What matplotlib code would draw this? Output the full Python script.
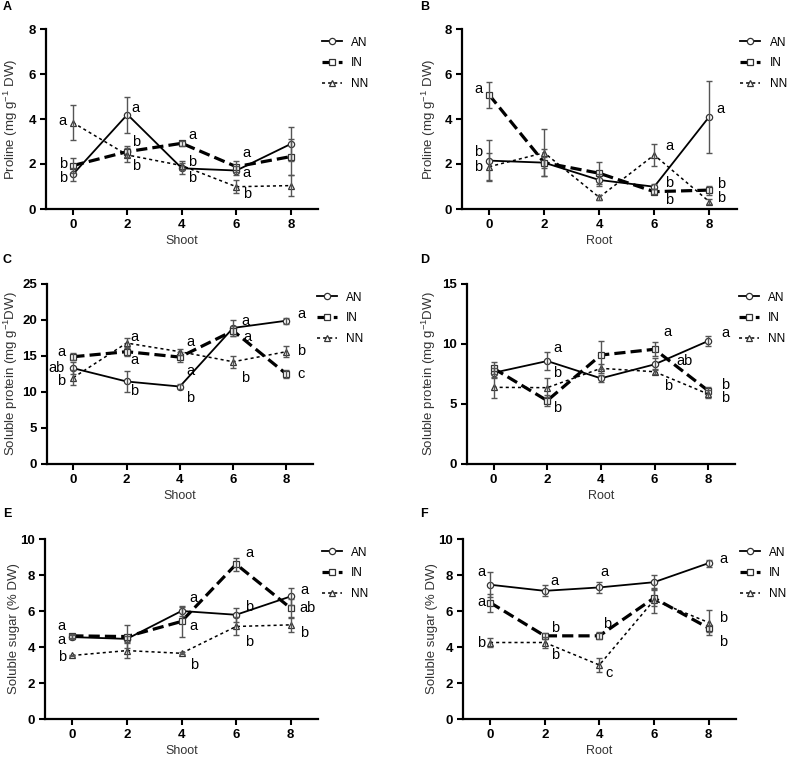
import matplotlib
matplotlib.use('Agg')
import matplotlib.pyplot as plt

plt.rcParams['font.family'] = ['Liberation Sans', 'DejaVu Sans']
plt.rcParams['mathtext.default'] = 'regular'

# sampling days and treatments
days = [0, 2, 4, 6, 8]
groups = ['AN', 'IN', 'NN']

# A - proline, shoot
a_an = [1.54, 4.2, 1.81, 1.71, 2.89]
a_an_err = [0.3, 0.8, 0.25, 0.2, 0.75]
a_in = [1.93, 2.55, 2.92, 1.88, 2.33]
a_in_err = [0.35, 0.25, 0.1, 0.25, 0.8]
a_nn = [3.84, 2.4, 1.93, 0.99, 1.04]
a_nn_err = [0.77, 0.3, 0.2, 0.3, 0.45]

# B - proline, root
b_an = [2.15, 2.06, 1.29, 0.99, 4.1]
b_an_err = [0.9, 0.6, 0.25, 0.1, 1.6]
b_in = [5.07, 2.06, 1.59, 0.77, 0.84]
b_in_err = [0.57, 0.25, 0.5, 0.1, 0.2]
b_nn = [1.88, 2.5, 0.52, 2.4, 0.33]
b_nn_err = [0.6, 1.04, 0.1, 0.5, 0.1]

# C - soluble protein, shoot
c_an = [13.3, 11.46, 10.76, 18.9, 19.9]
c_an_err = [0.8, 1.4, 0.3, 1.1, 0.4]
c_in = [14.9, 15.6, 14.85, 18.5, 12.5]
c_in_err = [0.5, 0.6, 0.7, 0.7, 0.5]
c_nn = [12.0, 16.8, 15.6, 14.2, 15.6]
c_nn_err = [1.0, 0.7, 0.4, 0.8, 0.8]

# D - soluble protein, root
d_an = [7.6, 8.58, 7.14, 8.3, 10.25]
d_an_err = [0.4, 0.75, 0.3, 0.5, 0.4]
d_in = [7.97, 5.28, 9.08, 9.56, 6.11]
d_in_err = [0.5, 0.45, 1.15, 0.6, 0.3]
d_nn = [6.39, 6.36, 7.97, 7.69, 5.83]
d_nn_err = [0.85, 0.8, 0.4, 0.2, 0.3]

# E - soluble sugar, shoot
e_an = [4.55, 4.45, 6.0, 5.79, 6.81]
e_an_err = [0.1, 0.15, 0.25, 0.4, 0.45]
e_in = [4.62, 4.58, 5.42, 8.6, 6.16]
e_in_err = [0.1, 0.65, 0.85, 0.35, 0.5]
e_nn = [3.53, 3.8, 3.65, 5.14, 5.23]
e_nn_err = [0.05, 0.4, 0.05, 0.5, 0.4]

# F - soluble sugar, root
f_an = [7.46, 7.12, 7.31, 7.6, 8.66]
f_an_err = [0.7, 0.3, 0.3, 0.4, 0.2]
f_in = [6.47, 4.62, 4.62, 6.72, 5.05]
f_in_err = [0.5, 0.15, 0.2, 0.45, 0.2]
f_nn = [4.25, 4.25, 3.0, 6.6, 5.36]
f_nn_err = [0.25, 0.3, 0.4, 0.7, 0.7]

# significance letters (x, y, text)
a_letters = [(-0.37, 3.93, 'a'), (-0.37, 2.0, 'b'), (-0.37, 1.37, 'b'),
             (2.31, 4.48, 'a'), (2.31, 3.0, 'b'), (2.31, 1.93, 'b'),
             (4.39, 3.29, 'a'), (4.39, 2.08, 'b'), (4.39, 1.37, 'b'),
             (6.39, 2.5, 'a'), (6.39, 1.59, 'a'), (6.39, 0.67, 'b')]
b_letters = [(-0.4, 5.33, 'a'), (-0.4, 2.55, 'b'), (-0.4, 1.85, 'b'),
             (6.56, 2.8, 'a'), (6.56, 1.14, 'b'), (6.56, 0.4, 'b'),
             (8.42, 4.43, 'a'), (8.42, 1.11, 'b'), (8.42, 0.47, 'b')]
c_letters = [(-0.45, 15.6, 'a'), (-0.62, 13.4, 'ab'), (-0.45, 11.5, 'b'),
             (2.3, 17.7, 'a'), (2.3, 14.5, 'a'), (2.3, 10.1, 'b'),
             (4.38, 16.9, 'a'), (4.38, 12.9, 'a'), (4.38, 9.2, 'b'),
             (6.45, 19.9, 'a'), (6.55, 17.6, 'a'), (6.45, 12.0, 'b'),
             (8.55, 20.8, 'a'), (8.55, 15.7, 'b'), (8.55, 12.5, 'c')]
d_letters = [(2.37, 9.7, 'a'), (2.37, 7.57, 'b'), (2.37, 4.65, 'b'),
             (6.5, 10.97, 'a'), (7.1, 8.6, 'ab'), (6.5, 6.54, 'b'),
             (8.64, 10.9, 'a'), (8.64, 6.6, 'b'), (8.64, 5.5, 'b')]
e_letters = [(-0.39, 5.15, 'a'), (-0.39, 4.4, 'a'), (-0.39, 3.47, 'b'),
             (4.45, 6.72, 'a'), (4.45, 5.14, 'a'), (4.45, 3.0, 'b'),
             (6.49, 9.22, 'a'), (6.49, 6.2, 'b'), (6.49, 4.27, 'b'),
             (8.49, 7.18, 'a'), (8.62, 6.16, 'ab'), (8.49, 4.8, 'b')]
f_letters = [(-0.33, 8.14, 'a'), (-0.33, 6.5, 'a'), (-0.33, 4.21, 'b'),
             (2.37, 7.68, 'a'), (2.37, 5.05, 'b'), (2.37, 3.56, 'b'),
             (4.2, 8.16, 'a'), (4.3, 5.29, 'b'), (4.37, 2.54, 'c'),
             (8.53, 8.89, 'a'), (8.53, 5.6, 'b'), (8.53, 4.27, 'b')]

prot_label = 'Soluble protein (mg g$^{-1}$DW)'
panels = [
    ('A', 'Shoot', 'Proline (mg g$^{-1}$ DW)', [0, 2, 4, 6, 8],
     (a_an, a_an_err), (a_in, a_in_err), (a_nn, a_nn_err), a_letters),
    ('B', 'Root', 'Proline (mg g$^{-1}$ DW)', [0, 2, 4, 6, 8],
     (b_an, b_an_err), (b_in, b_in_err), (b_nn, b_nn_err), b_letters),
    ('C', 'Shoot', prot_label, [0, 5, 10, 15, 20, 25],
     (c_an, c_an_err), (c_in, c_in_err), (c_nn, c_nn_err), c_letters),
    ('D', 'Root', prot_label, [0, 5, 10, 15],
     (d_an, d_an_err), (d_in, d_in_err), (d_nn, d_nn_err), d_letters),
    ('E', 'Shoot', 'Soluble sugar (% DW)', [0, 2, 4, 6, 8, 10],
     (e_an, e_an_err), (e_in, e_in_err), (e_nn, e_nn_err), e_letters),
    ('F', 'Root', 'Soluble sugar (% DW)', [0, 2, 4, 6, 8, 10],
     (f_an, f_an_err), (f_in, f_in_err), (f_nn, f_nn_err), f_letters),
]

# axes boxes in pixels: left, right, top, bottom
boxes = [(45.7, 318, 29, 209), (461.7, 736.7, 29, 209),
         (46.7, 313, 284, 464), (466.7, 735, 284, 464),
         (45, 318, 539, 719), (462.7, 736, 539, 719)]
tag_pos = [(7, 7), (425, 7), (7, 260), (425, 260), (7, 514), (424, 514)]
ylab_x = [20, 438, 20, 438, 20, 438]   # anchor of rotated y label, px

line_style = {
    'AN': dict(linestyle='-', linewidth=1.3, marker='o'),
    'IN': dict(linestyle=(0, (3.5, 1.6)), linewidth=2.3, marker='s'),
    'NN': dict(linestyle=(0, (2, 2)), linewidth=1.1, marker='^'),
}

W, H = 800, 772
fig = plt.figure(figsize=(W / 100, H / 100), dpi=100)

for i, p in enumerate(panels):
    tag, xlab, ylab, yticks, s_an, s_in, s_nn, letters = p
    l, r, t, b = boxes[i]
    ax = fig.add_axes([l / W, 1 - b / H, (r - l) / W, (b - t) / H])

    for g, (vals, err) in zip(groups, [s_an, s_in, s_nn]):
        ax.plot(days, vals, color='black', markerfacecolor='white',
                markeredgecolor='#333333', markersize=4.5, markeredgewidth=0.9,
                label=g, zorder=2, **line_style[g])
        ax.errorbar(days, vals, yerr=err, fmt='none', ecolor='#555555',
                    elinewidth=1.0, capsize=2.5, capthick=1.0, zorder=3)

    for x, y, s in letters:
        ax.text(x, y, s, fontsize=10.5, ha='center', va='center')

    ax.set_xlim(-1, 9)
    ax.set_ylim(0, yticks[-1])
    ax.set_xticks(days)
    ax.set_yticks(yticks)
    ax.spines['top'].set_visible(False)
    ax.spines['right'].set_visible(False)
    ax.spines['left'].set_linewidth(1.6)
    ax.spines['bottom'].set_linewidth(1.6)
    ax.tick_params(width=1.5, length=4, labelsize=9.5, pad=3)
    for lb in ax.get_xticklabels() + ax.get_yticklabels():
        lb.set_fontweight('bold')
    ax.set_xlabel(xlab, fontsize=9, color='#333333', labelpad=3)
    ax.set_ylabel(ylab, fontsize=9.5, color='#333333')
    ax.yaxis.set_label_coords((ylab_x[i] - l) / (r - l), 0.5)

    ax.legend(frameon=False, loc='upper left', bbox_to_anchor=(1.0, 0.978),
              fontsize=8.5, handlelength=1.7, handletextpad=0.8,
              labelspacing=0.75, borderaxespad=0, borderpad=0.3)

    fig.text(tag_pos[i][0] / W, 1 - tag_pos[i][1] / H, tag,
             fontsize=9, fontweight='bold', ha='center', va='center')

fig.savefig('out.png', dpi=100)
